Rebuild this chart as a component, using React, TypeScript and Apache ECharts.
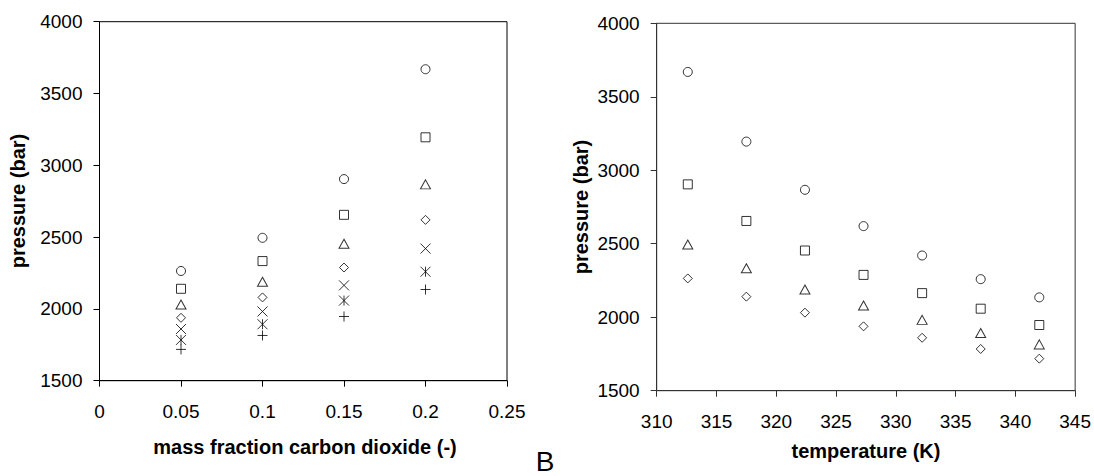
import React, { useEffect, useRef } from "react";
import * as echarts from "echarts";

// mass fraction of carbon dioxide (x of left plot)
const massFractions = [0.05, 0.1, 0.15, 0.2];
// temperatures in K (x of right plot)
const temperatures = [312.6, 317.5, 322.4, 327.3, 332.2, 337.1, 342.0];

// pressure (bar) at each temperature, for mass fractions 0.05, 0.1, 0.15, 0.2
const pressureT312 = [2264, 2495, 2904, 3669];
const pressureT317 = [2140, 2333, 2655, 3195];
const pressureT322 = [2031, 2189, 2454, 2867];
const pressureT327 = [1938, 2080, 2288, 2620];
const pressureT332 = [1860, 1982, 2164, 2420];
const pressureT337 = [1784, 1893, 2058, 2259];
const pressureT342 = [1718, 1815, 1947, 2135];

const pressureByTemperature = [
  pressureT312,
  pressureT317,
  pressureT322,
  pressureT327,
  pressureT332,
  pressureT337,
  pressureT342,
];

const yTicks = { min: 1500, max: 4000, interval: 500 };
const leftXTicks = { min: 0, max: 0.25, interval: 0.05 };
const rightXTicks = { min: 310, max: 345, interval: 5 };

const FONT = "'Liberation Sans', Arial, Helvetica, sans-serif";

const X_PATH = "path://M0,0L10,10M10,0L0,10";
const ASTERISK_PATH = "path://M0,0L10,10M10,0L0,10M5,0L5,10";
const PLUS_PATH = "path://M5,0L5,10M0,5L10,5";

const leftSymbols: any[] = [
  ["circle", 9],
  ["rect", 9],
  ["triangle", [10, 9]],
  ["diamond", 9],
  [X_PATH, 10],
  [ASTERISK_PATH, 10],
  [PLUS_PATH, 10],
];
// right plot: series per mass fraction (index into massFractions)
const rightSymbols: any[] = [
  [3, "circle", 9],
  [2, "rect", 9],
  [1, "triangle", [10, 9]],
  [0, "diamond", 9],
];

export default function App() {
  const ref = useRef<HTMLDivElement>(null);
  useEffect(() => {
    if (!ref.current) return;
    const chart = echarts.init(ref.current, null, { renderer: "svg" });

    const markerStyle = {
      color: "rgba(0,0,0,0)",
      borderColor: "#000",
      borderWidth: 1,
    };

    const makeYAxis = (gridIndex: number, color: string) => ({
      type: "value",
      gridIndex,
      ...yTicks,
      axisLine: { show: true, lineStyle: { color, width: 1 } },
      axisTick: { show: true, inside: false, length: 6, lineStyle: { color } },
      axisLabel: {
        color: "#000",
        fontSize: 19,
        fontFamily: FONT,
        margin: 17,
        formatter: (v: number) => String(v),
      },
      splitLine: { show: false },
    });
    const makeXAxis = (gridIndex: number, ticks: any, color: string) => ({
      type: "value",
      gridIndex,
      ...ticks,
      axisLine: { show: true, onZero: false, lineStyle: { color, width: 1 } },
      axisTick: { show: true, inside: false, length: 6, lineStyle: { color } },
      axisLabel: {
        color: "#000",
        fontSize: 19,
        fontFamily: FONT,
        margin: 21,
        formatter: (v: number) => String(v),
      },
      splitLine: { show: false },
    });

    const series: any[] = [];
    pressureByTemperature.forEach((vals, i) => {
      series.push({
        type: "scatter",
        xAxisIndex: 0,
        yAxisIndex: 0,
        symbol: leftSymbols[i][0],
        symbolSize: leftSymbols[i][1],
        itemStyle: markerStyle,
        data: massFractions.map((m, j) => [m, vals[j]]),
      });
    });
    rightSymbols.forEach(([j, sym, size]) => {
      series.push({
        type: "scatter",
        xAxisIndex: 1,
        yAxisIndex: 1,
        symbol: sym,
        symbolSize: size,
        itemStyle: markerStyle,
        data: temperatures.map((t, i) => [t, pressureByTemperature[i][j]]),
      });
    });

    const titleStyle = {
      fill: "#000",
      fontSize: 20,
      fontWeight: "bold",
      fontFamily: FONT,
      align: "center",
      verticalAlign: "middle",
    };

    chart.setOption({
      animation: false,
      backgroundColor: "#fff",
      grid: [
        {
          left: 99.5,
          width: 407.5,
          top: 21.7,
          height: 359,
          show: true,
          borderColor: "#000",
          borderWidth: 1,
          backgroundColor: "transparent",
        },
        {
          left: 656.7,
          width: 419.3,
          top: 23.3,
          height: 367.4,
          show: true,
          borderColor: "#333",
          borderWidth: 1,
          backgroundColor: "transparent",
        },
      ],
      xAxis: [makeXAxis(0, leftXTicks, "#000"), makeXAxis(1, rightXTicks, "#333")],
      yAxis: [makeYAxis(0, "#000"), makeYAxis(1, "#333")],
      series,
      graphic: [
        {
          type: "text",
          x: 18,
          y: 201,
          rotation: Math.PI / 2,
          style: { ...titleStyle, text: "pressure (bar)" },
        },
        {
          type: "text",
          x: 581,
          y: 207,
          rotation: Math.PI / 2,
          style: { ...titleStyle, text: "pressure (bar)" },
        },
        {
          type: "text",
          x: 305,
          y: 447,
          style: { ...titleStyle, text: "mass fraction carbon dioxide (-)" },
        },
        {
          type: "text",
          x: 866,
          y: 451,
          style: { ...titleStyle, text: "temperature (K)" },
        },
        {
          type: "text",
          x: 545,
          y: 475.5,
          style: {
            text: "B",
            fill: "#000",
            fontSize: 28,
            fontFamily: FONT,
            align: "center",
            verticalAlign: "bottom",
          },
        },
      ],
    });
    return () => chart.dispose();
  }, []);
  return (
    <div
      ref={ref}
      style={{ position: "absolute", left: 0, top: 0, width: 1094, height: 476 }}
    />
  );
}
